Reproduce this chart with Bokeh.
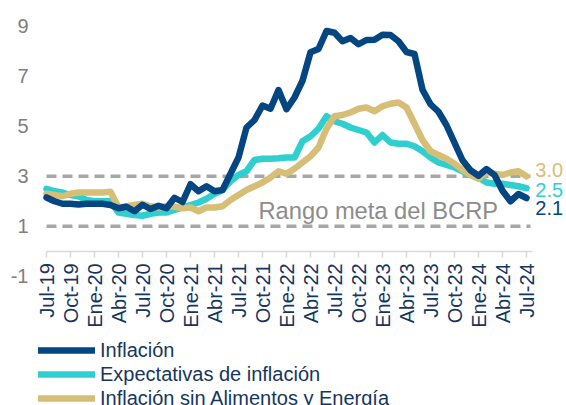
import numpy as np
from bokeh.plotting import figure
from bokeh.models import (FixedTicker, Legend, LegendItem, Label, ColumnDataSource, Range1d)
from bokeh.embed import file_html
from bokeh.resources import INLINE
from bokeh.core.properties import value

# ---- data (monthly, Jul-19 .. Jul-24) ----
tick_labels = ["Jul-19", "Oct-19", "Ene-20", "Abr-20", "Jul-20", "Oct-20", "Ene-21",
               "Abr-21", "Jul-21", "Oct-21", "Ene-22", "Abr-22", "Jul-22", "Oct-22",
               "Ene-23", "Abr-23", "Jul-23", "Oct-23", "Ene-24", "Abr-24", "Jul-24"]

inflacion = [2.15, 2.0, 1.9, 1.9, 1.87, 1.9, 1.9, 1.9, 1.85, 1.72, 1.78, 1.6,
             1.86, 1.69, 1.82, 1.72, 2.14, 1.97, 2.68, 2.4, 2.6, 2.4, 2.45, 3.1,
             3.75, 4.95, 5.25, 5.83, 5.7, 6.45, 5.68, 6.15, 6.82, 7.96, 8.09, 8.81,
             8.74, 8.40, 8.53, 8.28, 8.45, 8.46, 8.66, 8.65, 8.40, 7.97, 7.89, 6.46,
             5.88, 5.58, 5.04, 4.34, 3.64, 3.24, 3.02, 3.29, 3.05, 2.42, 2.00, 2.29, 2.13]

expectativas = [2.5, 2.4, 2.35, 2.25, 2.2, 2.05, 2.0, 2.0, 2.0, 1.55, 1.5, 1.45,
                1.42, 1.5, 1.55, 1.55, 1.65, 1.75, 1.85, 1.95, 2.1, 2.3, 2.45, 2.8,
                3.05, 3.2, 3.65, 3.7, 3.7, 3.72, 3.75, 3.75, 4.4, 4.6, 4.9, 5.4,
                5.2, 5.1, 4.95, 4.85, 4.75, 4.35, 4.65, 4.35, 4.3, 4.3, 4.2, 4.0,
                3.75, 3.55, 3.45, 3.35, 3.2, 3.05, 2.95, 2.75, 2.7, 2.7, 2.65, 2.6, 2.52]

subyacente = [2.3, 2.25, 2.2, 2.3, 2.35, 2.35, 2.35, 2.35, 2.38, 1.75, 1.8, 1.85,
              1.9, 1.8, 1.75, 1.8, 1.78, 1.72, 1.75, 1.6, 1.75, 1.75, 1.8, 2.05,
              2.25, 2.45, 2.6, 2.75, 2.95, 3.2, 3.1, 3.3, 3.55, 3.8, 4.15, 4.9,
              5.4, 5.45, 5.55, 5.7, 5.75, 5.6, 5.8, 5.9, 5.95, 5.75, 5.1, 4.45,
              4.0, 3.85, 3.7, 3.5, 3.25, 3.05, 2.9, 3.15, 3.1, 3.05, 3.15, 3.2, 3.0]

meta_rango = [1, 3]
meta_texto = "Rango meta del BCRP"
nombres = ["Inflación", "Expectativas de inflación", "Inflación sin Alimentos y Energía"]
y_ticks = [-1, 1, 3, 5, 7, 9]

# ---- styles ----
AZUL = "#034681"
CIAN = "#2ECFCE"
ORO = "#D7BE76"
GRIS = "#A6A6A6"
NAVY = "#17365D"
FONT = "Liberation Sans"

x = np.arange(len(inflacion))
tick_pos = list(range(0, len(inflacion), 3))

p = figure(width=566, height=405, output_backend="svg", toolbar_location=None,
           x_range=Range1d(-1.25, 65.0), y_range=Range1d(-6.17, 10.03),
           min_border_left=36, min_border_right=0, min_border_top=0, min_border_bottom=0)
p.outline_line_color = None
p.xgrid.visible = False
p.ygrid.visible = False
p.background_fill_color = "white"

# y axis
p.yaxis.ticker = FixedTicker(ticks=y_ticks)
p.yaxis.major_label_overrides = {t: str(t) for t in y_ticks}
p.yaxis.axis_line_color = None
p.yaxis.major_tick_line_color = None
p.yaxis.minor_tick_line_color = None
p.yaxis.major_tick_out = 0
p.yaxis.major_label_standoff = 8
p.yaxis.major_label_text_font = FONT
p.yaxis.major_label_text_font_size = "20px"
p.yaxis.major_label_text_color = "#7F7F7F"

# x axis at y = 0
p.xaxis.fixed_location = 0
p.xaxis.ticker = FixedTicker(ticks=tick_pos)
p.xaxis.major_label_overrides = {t: lbl for t, lbl in zip(tick_pos, tick_labels)}
p.xaxis.major_label_orientation = np.pi / 2
p.xaxis.bounds = (0, 60.8)
p.xaxis.axis_line_color = "#D9D9D9"
p.xaxis.axis_line_width = 1.5
p.xaxis.major_tick_line_color = "#D9D9D9"
p.xaxis.major_tick_line_width = 1.5
p.xaxis.minor_tick_line_color = None
p.xaxis.major_tick_in = 0
p.xaxis.major_tick_out = 6
p.xaxis.major_label_standoff = 6
p.xaxis.major_label_text_font = FONT
p.xaxis.major_label_text_font_size = "20px"
p.xaxis.major_label_text_color = NAVY

# target range
for v in meta_rango:
    p.segment(x0=0, y0=v, x1=x[-1] + 0.5, y1=v, line_color=GRIS, line_width=3.5,
              line_dash="10 6")

p.add_layout(Label(x=26.5, y=1.63, text=meta_texto, text_font=FONT,
                   text_font_size="23.7px", text_color="#8C8C8C",
                   text_baseline="alphabetic"))

# series
lw = 6.5
r_exp = p.line(x, expectativas, line_color=CIAN, line_width=lw, line_join="round", line_cap="round")
r_sub = p.line(x, subyacente, line_color=ORO, line_width=lw, line_join="round", line_cap="round")
r_inf = p.line(x, inflacion, line_color=AZUL, line_width=lw, line_join="round", line_cap="round")

# end labels
end_vals = [subyacente[-1], expectativas[-1], inflacion[-1]]
end_src = ColumnDataSource(dict(
    x=[x[-1] + 1.1] * 3, y=end_vals, t=[f"{v:.1f}" for v in end_vals],
    c=[ORO, CIAN, AZUL], dy=[-6, 2, 10]))
p.text(x="x", y="y", text="t", text_color="c", y_offset="dy", source=end_src,
       text_font=value(FONT), text_font_size="20px", text_baseline="middle",
       text_align="left")

legend = Legend(items=[LegendItem(label=nombres[0], renderers=[r_inf]),
                       LegendItem(label=nombres[1], renderers=[r_exp]),
                       LegendItem(label=nombres[2], renderers=[r_sub])],
                location=(2, -5), orientation="vertical", padding=0, margin=0,
                spacing=0, glyph_width=57, glyph_height=24, label_height=24,
                label_standoff=5, label_text_font=FONT, label_text_font_size="20px",
                label_text_color=NAVY, background_fill_alpha=0, border_line_alpha=0)
p.add_layout(legend)

open("out.html", "w").write(file_html(p, INLINE))
